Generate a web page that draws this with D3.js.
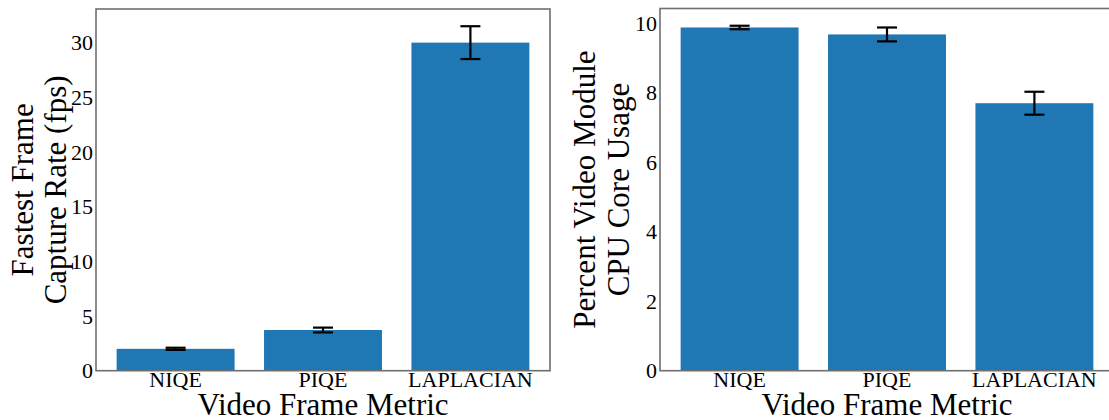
<!DOCTYPE html>
<html>
<head>
<meta charset="utf-8">
<script src="https://cdn.jsdelivr.net/npm/d3@7"></script>
<style>
  html, body { margin: 0; padding: 0; background: #ffffff; }
  svg { display: block; }
  text { font-family: "Liberation Serif", "Times New Roman", serif; fill: #000; }
</style>
</head>
<body>
<svg id="chart" width="1109" height="420"></svg>
<script>
// ---- data ----
const categories = ["NIQE", "PIQE", "LAPLACIAN"];
const fpsValues = [2.0, 3.72, 30.0];
const fpsErrors = [0.1, 0.22, 1.5];
const cpuValues = [9.88, 9.68, 7.70];
const cpuErrors = [0.05, 0.2, 0.33];
const fpsTicks = [0, 5, 10, 15, 20, 25, 30];
const cpuTicks = [0, 2, 4, 6, 8, 10];
const xTitle = "Video Frame Metric";
const fpsTitle = ["Fastest Frame", "Capture Rate (fps)"];
const cpuTitle = ["Percent Video Module", "CPU Core Usage"];

const svg = d3.select("#chart");
const barColor = "#1f77b4";
const spineColor = "#6f6f6f";
const serif = "'Liberation Serif', 'Times New Roman', serif";

function panel(cfg) {
  const { x0, x1, y0, y1, values, errors, ticks, title, titleX } = cfg;
  const g = svg.append("g");

  const x = d3.scaleBand().domain(categories).range([x0, x1])
    .paddingInner(0.2).paddingOuter(0.14);
  const yMax = d3.max(values.map((v, i) => v + errors[i])) * 1.05;
  const y = d3.scaleLinear().domain([0, yMax]).range([y1, y0]);

  // bars
  g.selectAll("rect.bar").data(values).enter().append("rect")
    .attr("class", "bar")
    .attr("x", (d, i) => x(categories[i]))
    .attr("width", x.bandwidth())
    .attr("y", d => y(d))
    .attr("height", d => y(0) - y(d))
    .attr("fill", barColor);

  // error bars
  const cap = 10;
  const cx = (i) => x(categories[i]) + x.bandwidth() / 2;
  const eb = g.selectAll("g.err").data(values).enter().append("g").attr("class", "err")
    .attr("stroke", "#000").attr("stroke-width", 2.2);
  eb.append("line")
    .attr("x1", (d, i) => cx(i)).attr("x2", (d, i) => cx(i))
    .attr("y1", (d, i) => y(d - errors[i]))
    .attr("y2", (d, i) => y(d + errors[i]));
  eb.append("line")
    .attr("x1", (d, i) => cx(i) - cap).attr("x2", (d, i) => cx(i) + cap)
    .attr("y1", (d, i) => y(d + errors[i]))
    .attr("y2", (d, i) => y(d + errors[i]));
  eb.append("line")
    .attr("x1", (d, i) => cx(i) - cap).attr("x2", (d, i) => cx(i) + cap)
    .attr("y1", (d, i) => y(d - errors[i]))
    .attr("y2", (d, i) => y(d - errors[i]));

  // frame
  g.append("rect")
    .attr("x", x0).attr("y", y0)
    .attr("width", x1 - x0).attr("height", y1 - y0)
    .attr("fill", "none").attr("stroke", spineColor).attr("stroke-width", 1.6);

  // y axis
  const ya = g.append("g").attr("transform", `translate(${x0 - 1},0)`)
    .call(d3.axisLeft(y).tickValues(ticks).tickSize(0).tickPadding(2).tickFormat(d3.format("d")))
    .attr("font-family", serif).attr("font-size", 22);
  ya.select(".domain").remove();
  ya.selectAll("text").attr("fill", "#000");

  // x axis
  const xa = g.append("g").attr("transform", `translate(0,${y1})`)
    .call(d3.axisBottom(x).tickSize(0).tickPadding(1))
    .attr("font-family", serif).attr("font-size", 22);
  xa.select(".domain").remove();
  xa.selectAll("text").attr("fill", "#000");

  // x title
  g.append("text")
    .attr("x", (x0 + x1) / 2).attr("y", 415)
    .attr("text-anchor", "middle")
    .style("font-size", "31px")
    .text(xTitle);

  // y title (two lines)
  const yc = (y0 + y1) / 2;
  title.forEach((t, i) => {
    g.append("text")
      .attr("transform", `translate(${titleX[i]},${yc}) rotate(-90)`)
      .attr("text-anchor", "middle")
      .style("font-size", "31px")
      .text(t);
  });
}

panel({ x0: 96, x1: 550, y0: 9, y1: 370.7, values: fpsValues, errors: fpsErrors,
        ticks: fpsTicks, title: fpsTitle, titleX: [33, 66] });
panel({ x0: 660, x1: 1114, y0: 8.5, y1: 370.7, values: cpuValues, errors: cpuErrors,
        ticks: cpuTicks, title: cpuTitle, titleX: [595, 629] });
</script>
</body>
</html>
